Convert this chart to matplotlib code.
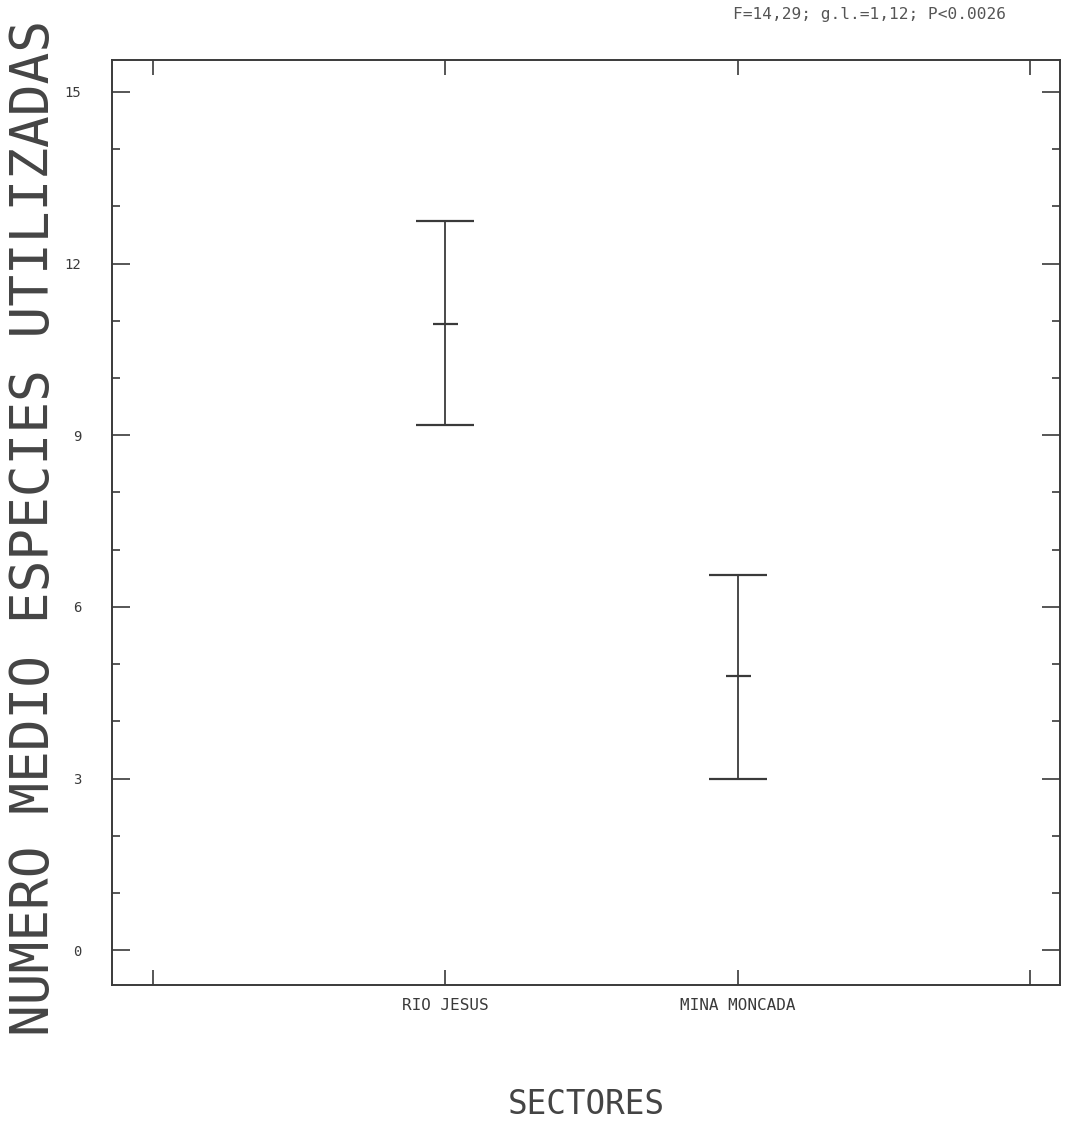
import numpy as np
import matplotlib.pyplot as plt
from matplotlib.ticker import MultipleLocator, FixedLocator

# dados
sectores = ["RIO JESUS", "MINA MONCADA"]
posicoes = [1, 2]
medias = [10.95, 4.80]
limite_sup = [12.75, 6.56]
limite_inf = [9.18, 2.99]
estatistica = "F=14,29; g.l.=1,12; P<0.0026"

cor = "#3a3a3a"
fonte = "DejaVu Sans Mono"

fig = plt.figure(figsize=(10.66, 11.31), dpi=100)
ax = fig.add_axes([0.105, 0.129, 0.889, 0.818])

medias = np.array(medias)
yerr = [medias - np.array(limite_inf), np.array(limite_sup) - medias]
ax.errorbar(posicoes, medias, yerr=yerr, fmt="_", color=cor, ecolor=cor,
            elinewidth=1.3, capsize=21, capthick=1.6, markersize=18,
            markeredgewidth=1.6)

ax.set_xlim(-0.14, 3.10)
ax.set_ylim(-0.61, 15.56)

# eixo x: marcas nas posicoes 0..3, rotulos so nas categorias
ax.xaxis.set_major_locator(FixedLocator([0, 1, 2, 3]))
ax.set_xticklabels(["", sectores[0], sectores[1], ""], family=fonte,
                   fontsize=11.5, color=cor)
ax.tick_params(axis="x", direction="in", length=11, width=1.2, colors=cor,
               top=True, pad=9)

ax.yaxis.set_major_locator(MultipleLocator(3))
ax.yaxis.set_minor_locator(MultipleLocator(1))
ax.tick_params(axis="y", which="major", direction="in", length=13, width=1.2,
               colors=cor, right=True, pad=22)
ax.tick_params(axis="y", which="minor", direction="in", length=6, width=1.2,
               colors=cor, right=True)
for lab in ax.get_yticklabels():
    lab.set_family(fonte)
    lab.set_fontsize(10)

for s in ax.spines.values():
    s.set_color(cor)
    s.set_linewidth(1.4)

fig.text(34 / 1066, 1 - 528 / 1131, "NUMERO MEDIO ESPECIES UTILIZADAS",
         rotation=90, ha="center", va="center", family=fonte, fontsize=38,
         color="#444444")
fig.text(586 / 1066, 1 - 1105 / 1131, "SECTORES", ha="center", va="center",
         family=fonte, fontsize=23.5, color="#444444")
fig.text(733 / 1066, 1 - 14 / 1131, estatistica, ha="left", va="center",
         family=fonte, fontsize=11.6, color="#555555")

fig.savefig("out.png", dpi=100)
